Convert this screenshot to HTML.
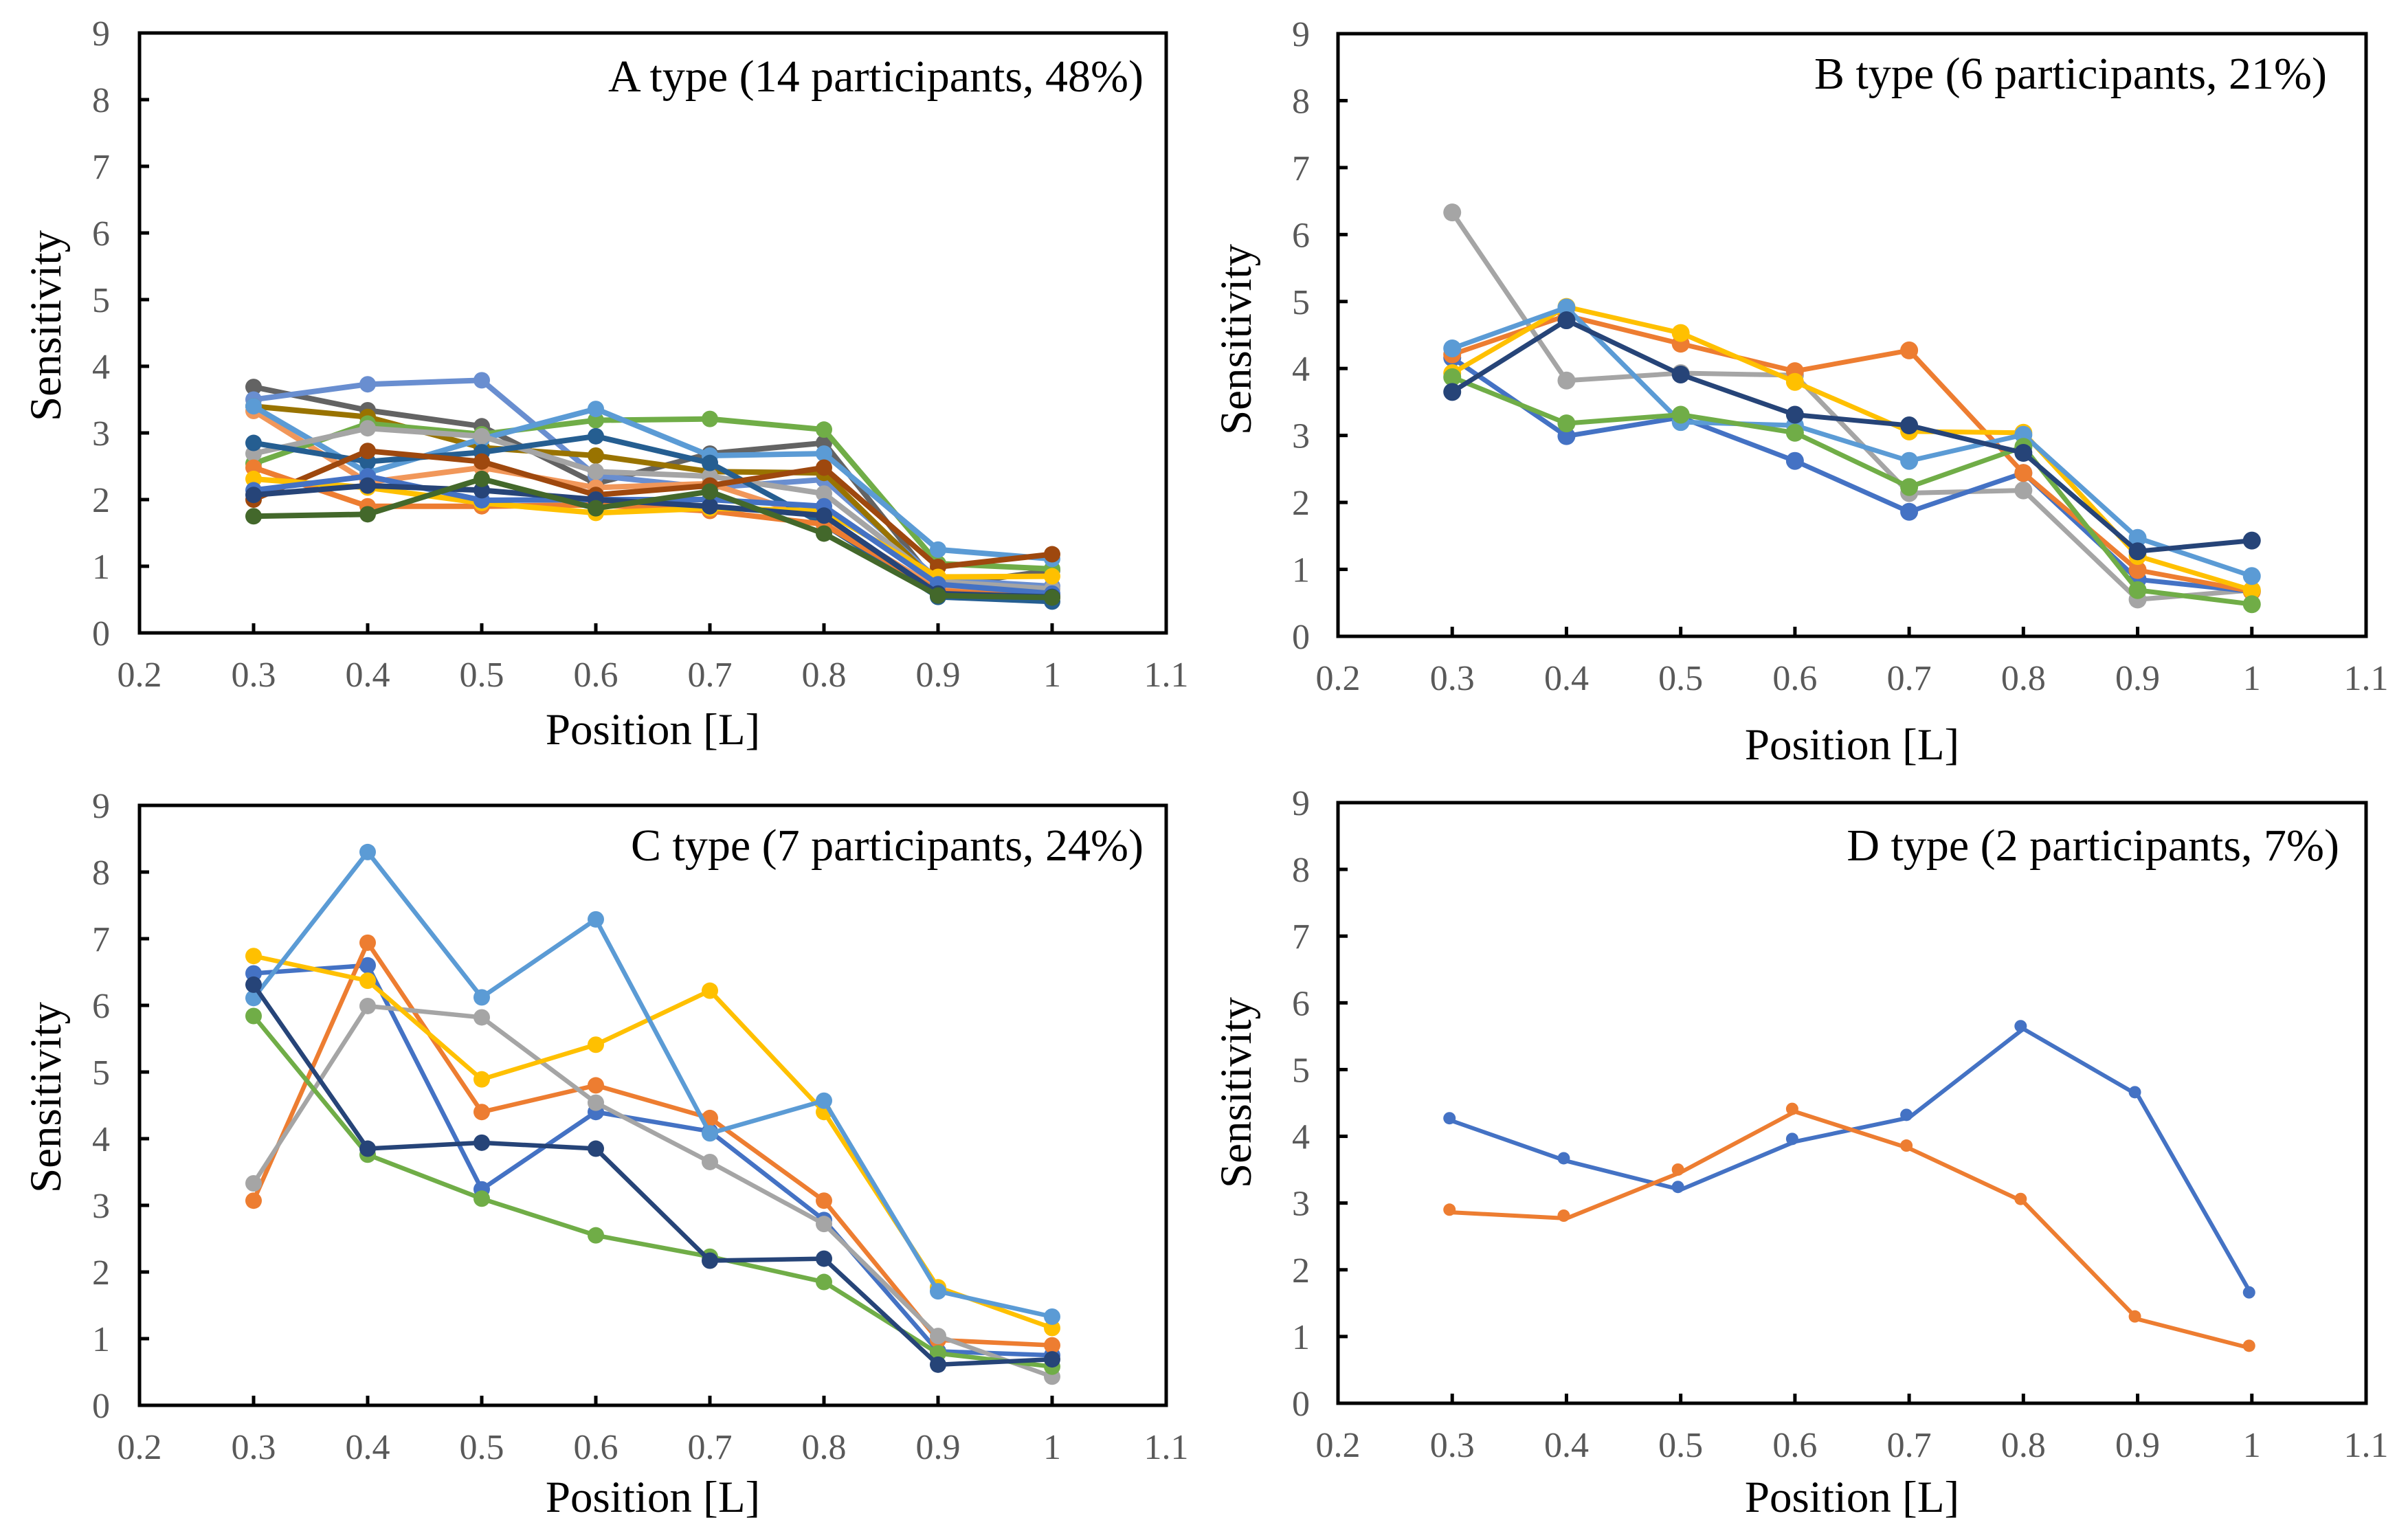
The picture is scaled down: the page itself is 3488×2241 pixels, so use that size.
<!DOCTYPE html>
<html><head><meta charset="utf-8"><style>
html,body{margin:0;padding:0;background:#fff;}
svg{display:block;}
text{font-family:"Liberation Serif",serif;}
</style></head><body>
<svg id="fig" width="3488" height="2241" viewBox="0 0 3488 2241" xmlns="http://www.w3.org/2000/svg"></svg>
<script>
const positions = [0.3,0.4,0.5,0.6,0.7,0.8,0.9,1.0];
const xTicks = [0.2,0.3,0.4,0.5,0.6,0.7,0.8,0.9,1.0,1.1];
const xTickLabels = ["0.2","0.3","0.4","0.5","0.6","0.7","0.8","0.9","1","1.1"];
const yTicks = [0,1,2,3,4,5,6,7,8,9];

const titleA = "A type (14 participants, 48%)";
const titleB = "B type (6 participants, 21%)";
const titleC = "C type (7 participants, 24%)";
const titleD = "D type (2 participants, 7%)";

// Panel A series
const a1 = [3.69,3.34,3.10,2.24,2.69,2.85,0.70,0.94];
const a2 = [3.50,3.73,3.79,2.36,2.18,2.30,0.80,0.70];
const a3 = [3.40,3.24,2.78,2.66,2.42,2.40,0.73,0.58];
const a4 = [3.33,2.26,2.48,2.18,2.24,1.69,0.66,0.53];
const a5 = [2.54,3.14,2.98,3.19,3.21,3.05,1.04,0.96];
const a6 = [3.40,2.40,2.91,3.36,2.66,2.69,1.25,1.11];
const a7 = [2.69,3.07,2.95,2.42,2.35,2.09,0.77,0.66];
const a8 = [2.85,2.57,2.71,2.95,2.55,1.63,0.54,0.47];
const a9 = [2.00,2.73,2.57,2.07,2.21,2.48,0.99,1.18];
const a10 = [2.48,1.90,1.90,1.92,1.83,1.63,0.63,0.54];
const a11 = [2.31,2.18,1.95,1.80,1.87,1.83,0.84,0.85];
const a12 = [2.14,2.35,1.99,2.00,2.00,1.90,0.73,0.59];
const a13 = [2.07,2.21,2.14,2.00,1.90,1.76,0.59,0.54];
const a14 = [1.75,1.78,2.31,1.87,2.12,1.49,0.56,0.53];
const colorsA = ["#636363","#698ed0","#997300","#f1975a","#70ad47","#5b9bd5","#a5a5a5","#255e91","#9e480e","#ed7d31","#ffc000","#4472c4","#264478","#43682b"];

// Panel B series
const b1 = [4.16,2.99,3.27,2.62,1.86,2.44,0.85,0.67];
const b2 = [4.21,4.79,4.37,3.96,4.27,2.44,0.99,0.67];
const b3 = [6.33,3.82,3.93,3.90,2.14,2.18,0.55,0.69];
const b4 = [3.93,4.92,4.53,3.80,3.06,3.04,1.20,0.69];
const b5 = [4.30,4.91,3.20,3.15,2.62,3.01,1.47,0.90];
const b6 = [3.87,3.18,3.31,3.04,2.23,2.83,0.69,0.48];
const b7 = [3.65,4.72,3.91,3.31,3.15,2.74,1.27,1.43];
const colorsB = ["#a5a5a5","#4472c4","#ed7d31","#ffc000","#5b9bd5","#70ad47","#264478"];

// Panel C series
const c1 = [6.48,6.60,3.24,4.40,4.11,2.78,0.81,0.75];
const c2 = [3.07,6.94,4.40,4.80,4.31,3.07,0.98,0.90];
const c3 = [3.33,5.99,5.82,4.54,3.65,2.72,1.04,0.43];
const c4 = [6.74,6.37,4.89,5.41,6.22,4.40,1.77,1.16];
const c5 = [6.11,8.30,6.12,7.29,4.08,4.57,1.71,1.33];
const c6 = [5.84,3.76,3.10,2.55,2.23,1.85,0.78,0.58];
const c7 = [6.31,3.85,3.94,3.85,2.17,2.20,0.61,0.69];
const colorsC = ["#4472c4","#ed7d31","#a5a5a5","#ffc000","#5b9bd5","#70ad47","#264478"];

// Panel D series
const d1 = [4.23,3.63,3.20,3.92,4.28,5.61,4.62,1.62];
const d2 = [2.86,2.77,3.46,4.37,3.82,3.02,1.26,0.82];
const colorsD = ["#4472c4","#ed7d31"];

const NS = "http://www.w3.org/2000/svg";
const svg = document.getElementById('fig');
function mk(tag, attrs, parent){
  const e = document.createElementNS(NS, tag);
  for (const k in attrs) e.setAttribute(k, attrs[k]);
  (parent||svg).appendChild(e);
  return e;
}

function panel(cfg){
  const g = mk('g', {});
  
  
  const xs = v => cfg.L + (v - 0.2) / 0.9 * (cfg.R - cfg.L);
  const ys = v => cfg.B - v / 9 * (cfg.B - cfg.T);
  const fr = mk('rect', {x:cfg.L, y:cfg.T, width:cfg.R-cfg.L, height:cfg.B-cfg.T, fill:'none', stroke:'#000', 'stroke-width':5}, g);
  
  
  yTicks.forEach(v => {
    const y = ys(v);
    const t = mk('line', {x1:cfg.L, x2:cfg.L+14, y1:y, y2:y, stroke:'#000', 'stroke-width':5}, g);
    
    
    const lb = mk('text', {x:cfg.yLabX, y:y+18, 'text-anchor':'end', 'font-size':52, fill:'#595959'}, g);
    lb.textContent = String(v);
    
    
  });
  xTicks.forEach((v, i) => {
    const x = xs(v);
    const t = mk('line', {x1:x, x2:x, y1:cfg.B, y2:cfg.B-14, stroke:'#000', 'stroke-width':5}, g);
    
    
    const lb = mk('text', {x:x, y:cfg.B+78, 'text-anchor':'middle', 'font-size':52, fill:'#595959'}, g);
    lb.textContent = xTickLabels[i];
    
    
  });
  const xl = mk('text', {x:(cfg.L+cfg.R)/2, y:cfg.xLabY, 'text-anchor':'middle', 'font-size':65, fill:'#000'}, g);
  xl.textContent = 'Position [L]';
  
  
  const yl = mk('text', {x:0, y:0, 'text-anchor':'middle', 'font-size':65, fill:'#000', transform:`translate(${cfg.yTitleX},${cfg.yTitleY}) rotate(-90)`}, g);
  yl.textContent = 'Sensitivity';
  
  
  const tt = mk('text', {x:cfg.titleR, y:cfg.titleY, 'text-anchor':'end', 'font-size':66, fill:'#000'}, g);
  tt.textContent = cfg.title;
  
  
  cfg.series.forEach((s, si) => {
    const pts = s.map((v, i) => xs(positions[i]) + ',' + ys(v)).join(' ');
    const pl = mk('polyline', {points:pts, fill:'none', stroke:cfg.colors[si], 'stroke-width':cfg.lw, 'stroke-linejoin':'round'}, g);
    
    
    s.forEach((v, i) => {
      const c = mk('circle', {cx:xs(positions[i]) + cfg.mdx, cy:ys(v) + cfg.mdy, r:cfg.mr, fill:cfg.colors[si]}, g);
      
      
    });
  });
}

panel({name:'panel-a-type', L:203, R:1697, T:48, B:921, yLabX:160, xLabY:1083, yTitleX:88, yTitleY:474, titleR:1664, titleY:133, title:titleA,
  series:[a1,a2,a3,a4,a5,a6,a7,a8,a9,a10,a11,a12,a13,a14], colors:colorsA, lw:8, mr:12, mdx:0, mdy:0});
panel({name:'panel-b-type', L:1947, R:3443, T:49, B:926, yLabX:1906, xLabY:1105, yTitleX:1820, yTitleY:494, titleR:3386, titleY:129, title:titleB,
  series:[b3,b1,b2,b4,b5,b6,b7], colors:colorsB, lw:7, mr:13, mdx:0, mdy:0});
panel({name:'panel-c-type', L:203, R:1697, T:1172, B:2045, yLabX:160, xLabY:2200, yTitleX:88, yTitleY:1597, titleR:1664, titleY:1252, title:titleC,
  series:[c1,c2,c3,c4,c5,c6,c7], colors:colorsC, lw:6.5, mr:12, mdx:0, mdy:0});
panel({name:'panel-d-type', L:1947, R:3443, T:1168, B:2042, yLabX:1906, xLabY:2200, yTitleX:1820, yTitleY:1590, titleR:3404, titleY:1252, title:titleD,
  series:[d1,d2], colors:colorsD, lw:6, mr:9, mdx:-4, mdy:-4});
</script>
</body></html>
